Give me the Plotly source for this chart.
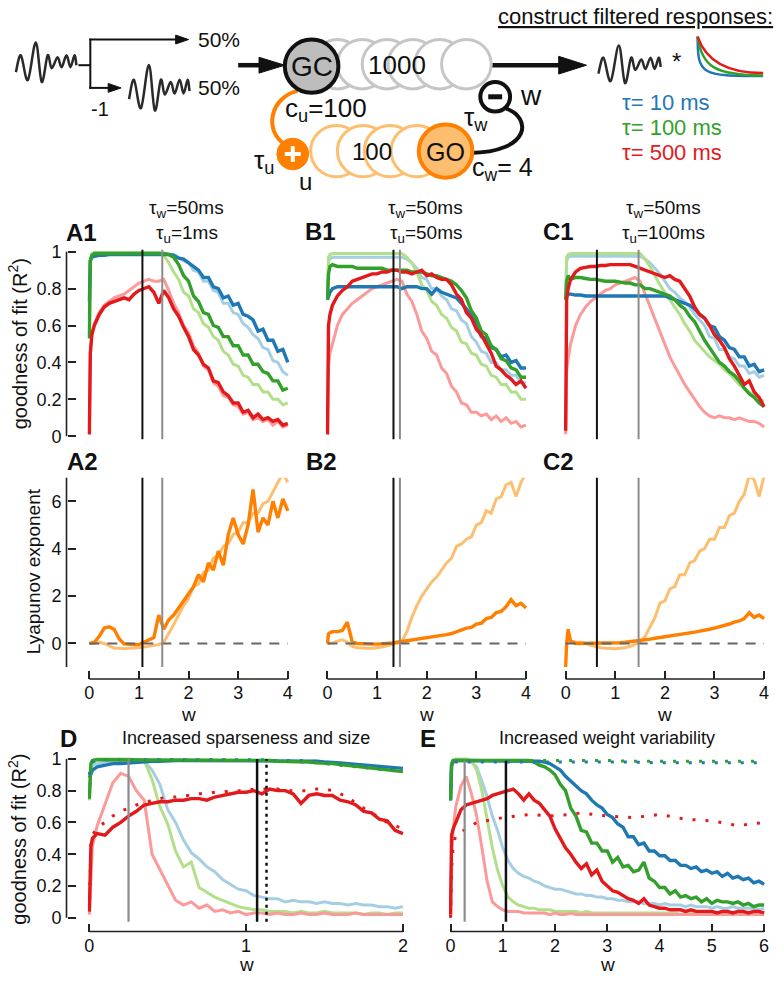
import plotly.graph_objects as go

FIG_W, FIG_H = 782, 981
FONT = "Liberation Sans, Arial, Helvetica, sans-serif"

# ============================ DATA ============================
W_ABC = [0, 0.02, 0.05, 0.1, 0.2, 0.3, 0.4, 0.5, 0.6, 0.7,
         0.8, 0.9, 1.0, 1.1, 1.2, 1.3, 1.4, 1.5, 1.6, 1.7,
         1.8, 1.9, 2.0, 2.1, 2.2, 2.3, 2.4, 2.5, 2.6, 2.7,
         2.8, 2.9, 3.0, 3.1, 3.2, 3.3, 3.4, 3.5, 3.6, 3.7,
         3.8, 3.9, 4.0]
X_TICKS_ABC = [0, 1, 2, 3, 4]
R2_TICKS = [0, 0.2, 0.4, 0.6, 0.8, 1]
R2_TICKTEXT = ["0", "0.2", "0.4", "0.6", "0.8", "1"]
LYAP_TICKS = [0, 2, 4, 6]

# ---- A1 (tau_w = 50 ms, tau_u = 1 ms)
A1_lblue = [0.73, 0.96, 0.98, 0.99, 0.99, 0.99, 0.99, 0.99, 0.99, 0.99,
            0.99, 0.99, 0.99, 0.99, 0.99, 0.99, 0.99, 0.99, 0.985, 0.985,
            0.97, 0.95, 0.94, 0.90, 0.89, 0.84, 0.84, 0.79, 0.78, 0.72,
            0.72, 0.67, 0.66, 0.61, 0.59, 0.55, 0.53, 0.48, 0.47, 0.41,
            0.40, 0.35, 0.33]
A1_lgreen = [0.55, 0.96, 0.99, 0.995, 0.995, 0.995, 0.995, 0.995, 0.995, 0.995,
             0.995, 0.995, 0.995, 0.995, 0.995, 0.995, 0.995, 0.98, 0.94, 0.89,
             0.85, 0.78, 0.76, 0.69, 0.67, 0.61, 0.59, 0.54, 0.52, 0.46,
             0.44, 0.39, 0.38, 0.33, 0.32, 0.28, 0.28, 0.24, 0.24, 0.20,
             0.20, 0.17, 0.18]
A1_lred = [0.01, 0.45, 0.55, 0.61, 0.67, 0.71, 0.73, 0.75, 0.76, 0.77,
           0.79, 0.81, 0.83, 0.84, 0.85, 0.84, 0.84, 0.85, 0.79, 0.72,
           0.67, 0.60, 0.56, 0.49, 0.45, 0.38, 0.36, 0.29, 0.27, 0.22,
           0.21, 0.17, 0.16, 0.12, 0.13, 0.09, 0.10, 0.08, 0.09, 0.06,
           0.08, 0.05, 0.06]
A1_blue = [0.73, 0.95, 0.97, 0.975, 0.98, 0.98, 0.985, 0.985, 0.985, 0.985,
           0.985, 0.985, 0.985, 0.985, 0.985, 0.985, 0.985, 0.985, 0.985, 0.98,
           0.965, 0.96, 0.94, 0.92, 0.90, 0.86, 0.86, 0.81, 0.80, 0.75,
           0.76, 0.71, 0.72, 0.66, 0.65, 0.63, 0.57, 0.58, 0.52, 0.52,
           0.46, 0.47, 0.40]
A1_green = [0.53, 0.95, 0.98, 0.99, 0.99, 0.99, 0.99, 0.99, 0.99, 0.99,
            0.99, 0.99, 0.99, 0.99, 0.99, 0.99, 0.99, 0.99, 0.985, 0.97,
            0.93, 0.87, 0.84, 0.76, 0.73, 0.67, 0.66, 0.60, 0.59, 0.54,
            0.54, 0.49, 0.49, 0.44, 0.44, 0.39, 0.39, 0.35, 0.34, 0.30,
            0.30, 0.25, 0.26]
A1_red = [0.01, 0.45, 0.55, 0.60, 0.66, 0.70, 0.72, 0.73, 0.74, 0.75,
          0.74, 0.77, 0.79, 0.80, 0.81, 0.78, 0.72, 0.79, 0.75, 0.69,
          0.65, 0.59, 0.54, 0.47, 0.44, 0.39, 0.37, 0.30, 0.29, 0.24,
          0.22, 0.18, 0.18, 0.13, 0.14, 0.10, 0.12, 0.09, 0.10, 0.08,
          0.09, 0.06, 0.07]

# ---- B1 (tau_w = 50 ms, tau_u = 50 ms)
B1_lblue = [0.74, 0.95, 0.96, 0.97, 0.97, 0.97, 0.97, 0.97, 0.97, 0.97,
            0.97, 0.97, 0.97, 0.97, 0.97, 0.97, 0.97, 0.97, 0.96, 0.94,
            0.91, 0.86, 0.85, 0.80, 0.80, 0.76, 0.74, 0.69, 0.68, 0.63,
            0.61, 0.54, 0.51, 0.46, 0.45, 0.40, 0.40, 0.36, 0.36, 0.33,
            0.33, 0.29, 0.29]
B1_lgreen = [0.74, 0.97, 0.985, 0.99, 0.99, 0.99, 0.99, 0.99, 0.99, 0.99,
             0.99, 0.99, 0.99, 0.99, 0.99, 0.99, 0.99, 0.99, 0.97, 0.94,
             0.89, 0.82, 0.79, 0.73, 0.71, 0.66, 0.64, 0.59, 0.57, 0.51,
             0.50, 0.45, 0.44, 0.39, 0.38, 0.33, 0.32, 0.28, 0.28, 0.24,
             0.24, 0.20, 0.20]
B1_lred = [0.01, 0.38, 0.45, 0.50, 0.60, 0.66, 0.69, 0.72, 0.74, 0.76,
           0.78, 0.80, 0.81, 0.82, 0.83, 0.84, 0.85, 0.84, 0.77, 0.73,
           0.66, 0.57, 0.53, 0.46, 0.44, 0.37, 0.34, 0.27, 0.24, 0.18,
           0.17, 0.13, 0.13, 0.11, 0.12, 0.09, 0.11, 0.08, 0.10, 0.07,
           0.08, 0.05, 0.06]
B1_blue = [0.74, 0.76, 0.78, 0.80, 0.81, 0.81, 0.81, 0.81, 0.81, 0.81,
           0.81, 0.81, 0.81, 0.81, 0.81, 0.81, 0.81, 0.80, 0.81, 0.81,
           0.81, 0.80, 0.80, 0.77, 0.80, 0.78, 0.77, 0.76, 0.75, 0.72,
           0.69, 0.65, 0.61, 0.54, 0.53, 0.48, 0.47, 0.43, 0.44, 0.40,
           0.41, 0.37, 0.37]
B1_green = [0.74, 0.88, 0.92, 0.93, 0.92, 0.92, 0.92, 0.92, 0.91, 0.91,
            0.91, 0.91, 0.91, 0.91, 0.90, 0.90, 0.90, 0.90, 0.90, 0.89,
            0.89, 0.89, 0.88, 0.87, 0.87, 0.86, 0.85, 0.84, 0.82, 0.79,
            0.75, 0.68, 0.64, 0.57, 0.55, 0.49, 0.47, 0.42, 0.41, 0.37,
            0.36, 0.32, 0.32]
B1_red = [0.01, 0.60, 0.66, 0.71, 0.76, 0.79, 0.81, 0.84, 0.85, 0.86,
          0.87, 0.88, 0.88, 0.89, 0.89, 0.90, 0.90, 0.89, 0.89, 0.88,
          0.89, 0.90, 0.87, 0.88, 0.86, 0.85, 0.85, 0.82, 0.77, 0.74,
          0.67, 0.64, 0.58, 0.55, 0.50, 0.45, 0.38, 0.36, 0.33, 0.31,
          0.28, 0.30, 0.26]

# ---- C1 (tau_w = 50 ms, tau_u = 100 ms)
C1_lblue = [0.74, 0.95, 0.97, 0.975, 0.975, 0.975, 0.975, 0.975, 0.975, 0.975,
            0.975, 0.975, 0.975, 0.975, 0.975, 0.975, 0.975, 0.975, 0.96, 0.94,
            0.91, 0.88, 0.84, 0.80, 0.78, 0.75, 0.73, 0.70, 0.66, 0.63,
            0.60, 0.54, 0.53, 0.47, 0.47, 0.43, 0.42, 0.38, 0.38, 0.34,
            0.35, 0.32, 0.33]
C1_lgreen = [0.74, 0.97, 0.985, 0.99, 0.99, 0.99, 0.99, 0.99, 0.99, 0.99,
             0.99, 0.99, 0.99, 0.99, 0.99, 0.99, 0.99, 0.99, 0.96, 0.92,
             0.87, 0.82, 0.78, 0.74, 0.70, 0.66, 0.61, 0.57, 0.52, 0.49,
             0.46, 0.43, 0.41, 0.39, 0.36, 0.34, 0.31, 0.28, 0.26, 0.24,
             0.22, 0.20, 0.19]
C1_lred = [0.01, 0.35, 0.42, 0.50, 0.60, 0.66, 0.70, 0.73, 0.75, 0.77,
           0.79, 0.80, 0.82, 0.83, 0.84, 0.85, 0.86, 0.84, 0.77, 0.70,
           0.63, 0.56, 0.50, 0.43, 0.38, 0.33, 0.28, 0.24, 0.20, 0.16,
           0.13, 0.11, 0.10, 0.11, 0.10, 0.10, 0.09, 0.10, 0.09, 0.08,
           0.08, 0.07, 0.05]
C1_blue = [0.74, 0.76, 0.77, 0.77, 0.765, 0.765, 0.76, 0.76, 0.76, 0.76,
           0.76, 0.76, 0.76, 0.76, 0.76, 0.76, 0.76, 0.76, 0.76, 0.76,
           0.76, 0.76, 0.76, 0.75, 0.74, 0.73, 0.72, 0.71, 0.69, 0.66,
           0.64, 0.60, 0.59, 0.54, 0.52, 0.48, 0.47, 0.43, 0.43, 0.38,
           0.39, 0.35, 0.36]
C1_green = [0.74, 0.84, 0.87, 0.85, 0.86, 0.86, 0.855, 0.85, 0.85, 0.845,
            0.84, 0.84, 0.84, 0.835, 0.83, 0.83, 0.82, 0.82, 0.80, 0.80,
            0.79, 0.78, 0.77, 0.76, 0.74, 0.71, 0.69, 0.65, 0.62, 0.57,
            0.52, 0.48, 0.44, 0.40, 0.38, 0.35, 0.33, 0.30, 0.26, 0.23,
            0.21, 0.18, 0.16]
C1_red = [0.03, 0.74, 0.80, 0.85, 0.89, 0.91, 0.915, 0.92, 0.92, 0.925,
          0.925, 0.93, 0.93, 0.93, 0.93, 0.93, 0.92, 0.91, 0.90, 0.89,
          0.88, 0.87, 0.86, 0.87, 0.85, 0.84, 0.80, 0.76, 0.70, 0.66,
          0.64, 0.60, 0.55, 0.52, 0.48, 0.42, 0.38, 0.33, 0.28, 0.30,
          0.24, 0.21, 0.16]

# ---- Lyapunov exponents (A2, B2, C2)
A2_lo = [0.0, 0.0, 0.0, 0.0, 0.05, 0.0, -0.1, -0.2, -0.2, -0.22,
         -0.2, -0.2, -0.18, -0.15, -0.12, -0.1, -0.05, 0.05, 0.4, 0.8,
         1.2, 1.6, 1.9, 2.4, 2.5, 3.0, 3.1, 3.6, 3.7, 4.1,
         4.2, 4.6, 4.7, 5.1, 5.1, 5.5, 5.5, 5.9, 6.0, 6.4,
         6.8, 7.2, 6.8]
A2_o = [0.0, 0.0, 0.02, 0.05, 0.3, 0.65, 0.7, 0.6, 0.2, -0.02,
        -0.05, -0.05, -0.05, 0.05, 0.15, 0.25, 1.2, 0.6, 1.0, 1.2,
        1.5, 1.8, 2.1, 2.4, 2.9, 2.6, 3.4, 3.1, 3.9, 3.3,
        4.6, 5.3, 4.6, 4.2, 5.0, 6.5, 4.7, 5.3, 5.0, 6.0,
        5.3, 6.1, 5.6]
B2_lo = [0.0, 0.0, 0.0, 0.02, 0.1, 0.15, 0.05, -0.12, -0.18, -0.2,
         -0.2, -0.2, -0.18, -0.15, -0.1, -0.05, 0.0, 0.1, 0.5, 1.1,
         1.6, 2.0, 2.3, 2.6, 2.8, 3.1, 3.4, 3.6, 4.1, 4.2,
         4.4, 4.5, 5.0, 5.1, 5.6, 5.5, 6.1, 6.2, 6.7, 6.8,
         6.2, 6.8, 7.2]
B2_o = [0.0, 0.4, 0.45, 0.5, 0.5, 0.55, 0.9, 0.05, 0.0, -0.02,
        -0.03, -0.03, -0.03, -0.02, 0.0, 0.02, 0.05, 0.08, 0.1, 0.13,
        0.17, 0.2, 0.22, 0.25, 0.3, 0.33, 0.37, 0.42, 0.5, 0.55,
        0.65, 0.68, 0.82, 0.85, 1.05, 1.1, 1.3, 1.35, 1.55, 1.85,
        1.6, 1.7, 1.5]
C2_lo = [0.0, 0.0, 0.05, 0.1, 0.05, 0.05, 0.0, -0.08, -0.12, -0.18,
         -0.2, -0.22, -0.22, -0.2, -0.18, -0.12, -0.05, 0.05, 0.3, 0.7,
         1.1, 1.7, 1.8, 2.3, 2.4, 2.9, 2.9, 3.4, 3.5, 3.9,
         4.0, 4.4, 4.4, 4.9, 4.9, 5.4, 5.5, 6.0, 6.3, 7.1,
         6.9, 6.2, 7.1]
C2_o = [-1.0, 0.0, 0.6, 0.1, 0.0, 0.0, 0.0, 0.0, 0.0, 0.0,
        0.0, 0.02, 0.02, 0.03, 0.05, 0.07, 0.1, 0.12, 0.15, 0.18,
        0.22, 0.25, 0.28, 0.3, 0.33, 0.36, 0.4, 0.44, 0.48, 0.52,
        0.55, 0.6, 0.65, 0.7, 0.75, 0.82, 0.9, 0.95, 1.05, 1.3,
        1.1, 1.2, 1.05]

# vertical reference lines (black, grey) per column
VLINES_ABC = {"A": (1.07, 1.47), "B": (1.33, 1.46), "C": (0.63, 1.47)}

# ---- D: increased sparseness and size
W_D = [0, 0.01, 0.02, 0.05, 0.1, 0.15, 0.2, 0.25, 0.3, 0.35,
       0.4, 0.45, 0.5, 0.55, 0.6, 0.65, 0.7, 0.75, 0.8, 0.85,
       0.9, 0.95, 1.0, 1.05, 1.1, 1.15, 1.2, 1.25, 1.3, 1.35,
       1.4, 1.45, 1.5, 1.55, 1.6, 1.65, 1.7, 1.75, 1.8, 1.85,
       1.9, 1.95, 2.0]
X_TICKS_D = [0, 1, 2]
D_lblue = [0.74, 0.94, 0.96, 0.97, 0.98, 0.985, 0.99, 0.99, 0.99, 0.985,
           0.93, 0.84, 0.68, 0.60, 0.49, 0.41, 0.37, 0.32, 0.29, 0.24,
           0.21, 0.18, 0.17, 0.14, 0.13, 0.12, 0.12, 0.10, 0.11, 0.10,
           0.10, 0.09, 0.10, 0.09, 0.09, 0.08, 0.09, 0.08, 0.08, 0.07,
           0.07, 0.06, 0.07]
D_lgreen = [0.74, 0.97, 0.99, 1.0, 1.0, 1.0, 1.0, 1.0, 0.995, 0.99,
            0.87, 0.70, 0.59, 0.42, 0.32, 0.35, 0.19, 0.16, 0.13, 0.11,
            0.09, 0.07, 0.06, 0.05, 0.05, 0.04, 0.04, 0.04, 0.03, 0.04,
            0.03, 0.03, 0.04, 0.03, 0.03, 0.03, 0.03, 0.02, 0.03, 0.03,
            0.02, 0.03, 0.03]
D_lred = [0.02, 0.30, 0.45, 0.58, 0.71, 0.85, 0.91, 0.89, 0.80, 0.74,
          0.40, 0.30, 0.20, 0.11, 0.08, 0.10, 0.06, 0.08, 0.04, 0.05,
          0.03, 0.04, 0.02, 0.03, 0.03, 0.02, 0.03, 0.02, 0.02, 0.03,
          0.02, 0.02, 0.03, 0.02, 0.02, 0.02, 0.03, 0.02, 0.02, 0.02,
          0.02, 0.02, 0.02]
D_blue = [0.88, 0.90, 0.93, 0.95, 0.96, 0.97, 0.97, 0.975, 0.98, 0.98,
          0.985, 0.985, 0.99, 0.99, 0.99, 0.99, 0.99, 0.99, 0.99, 0.99,
          0.99, 0.99, 0.99, 0.99, 0.99, 0.99, 0.99, 0.99, 0.99, 0.99,
          0.985, 0.985, 0.98, 0.98, 0.975, 0.97, 0.965, 0.96, 0.955, 0.95,
          0.945, 0.94, 0.94]
D_green = [0.75, 0.97, 0.99, 0.995, 0.995, 0.995, 0.995, 0.995, 0.995, 0.995,
           0.995, 0.995, 0.99, 0.99, 0.99, 0.99, 0.99, 0.99, 0.99, 0.99,
           0.99, 0.99, 0.99, 0.99, 0.99, 0.99, 0.985, 0.985, 0.985, 0.98,
           0.98, 0.975, 0.975, 0.97, 0.965, 0.96, 0.955, 0.95, 0.945, 0.94,
           0.93, 0.925, 0.92]
D_red = [0.04, 0.45, 0.50, 0.53, 0.52, 0.57, 0.60, 0.64, 0.67, 0.71,
         0.72, 0.73, 0.73, 0.74, 0.74, 0.75, 0.75, 0.74, 0.76, 0.77,
         0.78, 0.79, 0.79, 0.80, 0.78, 0.81, 0.80, 0.80, 0.78, 0.72,
         0.77, 0.78, 0.77, 0.77, 0.74, 0.73, 0.71, 0.67, 0.66, 0.62,
         0.61, 0.55, 0.53]
D_blue_dot = [0.90, 0.96, 0.98, 0.99, 0.995, 0.995, 0.995, 0.995, 0.995, 0.995,
              0.995, 0.995, 0.995, 0.995, 0.995, 0.995, 0.995, 0.995, 0.995, 0.995,
              0.995, 0.995, 0.995, 0.995, 0.995, 0.99, 0.99, 0.99, 0.99, 0.99,
              0.985, 0.985, 0.98, 0.975, 0.97, 0.965, 0.96, 0.955, 0.95, 0.945,
              0.945, 0.94, 0.94]
D_green_dot = [0.75, 0.97, 0.99, 0.995, 0.995, 0.995, 0.995, 0.995, 0.995, 0.995,
               0.995, 0.995, 0.995, 0.995, 0.995, 0.995, 0.995, 0.995, 0.995, 0.995,
               0.99, 0.99, 0.99, 0.99, 0.99, 0.99, 0.99, 0.985, 0.985, 0.98,
               0.98, 0.975, 0.97, 0.965, 0.96, 0.955, 0.95, 0.945, 0.94, 0.935,
               0.93, 0.925, 0.92]
D_red_dot = [0.04, 0.45, 0.52, 0.57, 0.60, 0.64, 0.67, 0.69, 0.71, 0.72,
             0.74, 0.75, 0.76, 0.76, 0.77, 0.77, 0.78, 0.78, 0.79, 0.79,
             0.80, 0.80, 0.80, 0.81, 0.81, 0.81, 0.81, 0.80, 0.80, 0.80,
             0.80, 0.81, 0.81, 0.80, 0.78, 0.76, 0.72, 0.69, 0.66, 0.63,
             0.60, 0.58, 0.56]
D_VLINES = (0.25, 1.07, 1.13)   # grey, black, black dotted

# ---- E: increased weight variability
W_E = [0, 0.02, 0.05, 0.1, 0.2, 0.3, 0.4, 0.5, 0.6, 0.7,
       0.8, 0.9, 1.0, 1.1, 1.2, 1.3, 1.4, 1.5, 1.6, 1.7,
       1.8, 1.9, 2.0, 2.1, 2.2, 2.3, 2.4, 2.5, 2.6, 2.7,
       2.8, 2.9, 3.0, 3.1, 3.2, 3.3, 3.4, 3.5, 3.6, 3.7,
       3.8, 3.9, 4.0, 4.1, 4.2, 4.3, 4.4, 4.5, 4.6, 4.7,
       4.8, 4.9, 5.0, 5.1, 5.2, 5.3, 5.4, 5.5, 5.6, 5.7,
       5.8, 5.9, 6.0]
X_TICKS_E = [0, 1, 2, 3, 4, 5, 6]
E_lblue = [0.74, 0.96, 0.98, 0.99, 0.99, 0.99, 0.98, 0.95, 0.86, 0.76,
           0.64, 0.55, 0.44, 0.36, 0.31, 0.28, 0.26, 0.25, 0.23, 0.22,
           0.20, 0.19, 0.18, 0.18, 0.17, 0.16, 0.15, 0.15, 0.14, 0.14,
           0.13, 0.13, 0.12, 0.12, 0.11, 0.11, 0.10, 0.10, 0.10, 0.09,
           0.09, 0.09, 0.08, 0.09, 0.08, 0.08, 0.08, 0.07, 0.08, 0.07,
           0.07, 0.07, 0.06, 0.07, 0.06, 0.06, 0.07, 0.06, 0.06, 0.06,
           0.06, 0.05, 0.06]
E_lgreen = [0.74, 0.97, 0.99, 1.0, 1.0, 1.0, 0.99, 0.93, 0.80, 0.62,
            0.44, 0.30, 0.20, 0.13, 0.10, 0.08, 0.07, 0.06, 0.06, 0.05,
            0.05, 0.05, 0.04, 0.04, 0.04, 0.04, 0.04, 0.03, 0.04, 0.03,
            0.03, 0.03, 0.03, 0.03, 0.03, 0.03, 0.03, 0.03, 0.03, 0.03,
            0.03, 0.03, 0.03, 0.03, 0.03, 0.03, 0.02, 0.03, 0.03, 0.03,
            0.03, 0.03, 0.03, 0.03, 0.02, 0.03, 0.03, 0.03, 0.03, 0.03,
            0.03, 0.03, 0.03]
E_lred = [0.0, 0.40, 0.55, 0.70, 0.83, 0.89, 0.78, 0.64, 0.44, 0.23,
          0.10, 0.07, 0.05, 0.04, 0.04, 0.04, 0.03, 0.03, 0.03, 0.03,
          0.03, 0.02, 0.03, 0.02, 0.02, 0.03, 0.02, 0.02, 0.02, 0.02,
          0.02, 0.02, 0.02, 0.02, 0.02, 0.02, 0.02, 0.02, 0.02, 0.02,
          0.02, 0.02, 0.02, 0.02, 0.02, 0.02, 0.02, 0.02, 0.02, 0.02,
          0.02, 0.02, 0.02, 0.02, 0.02, 0.02, 0.02, 0.02, 0.02, 0.02,
          0.02, 0.02, 0.02]
E_blue = [0.74, 0.96, 0.98, 0.99, 0.99, 0.99, 0.99, 0.99, 0.99, 0.99,
          0.99, 0.99, 0.99, 0.99, 0.99, 0.99, 0.99, 0.99, 0.99, 0.985,
          0.98, 0.97, 0.95, 0.93, 0.89, 0.86, 0.83, 0.80, 0.78, 0.74,
          0.71, 0.69, 0.65, 0.63, 0.59, 0.57, 0.51, 0.51, 0.46, 0.47,
          0.42, 0.42, 0.39, 0.39, 0.36, 0.36, 0.33, 0.33, 0.31, 0.32,
          0.29, 0.30, 0.28, 0.29, 0.26, 0.28, 0.25, 0.26, 0.24, 0.25,
          0.22, 0.23, 0.21]
E_green = [0.74, 0.97, 0.99, 0.99, 0.99, 0.99, 0.99, 0.99, 0.99, 0.99,
           0.99, 0.99, 0.99, 0.99, 0.99, 0.99, 0.99, 0.99, 0.98, 0.96,
           0.95, 0.93, 0.90, 0.84, 0.80, 0.69, 0.64, 0.55, 0.54, 0.47,
           0.47, 0.42, 0.42, 0.35, 0.38, 0.32, 0.33, 0.29, 0.30, 0.35,
           0.25, 0.23, 0.19, 0.19, 0.15, 0.17, 0.13, 0.14, 0.12, 0.13,
           0.10, 0.12, 0.09, 0.11, 0.10, 0.10, 0.09, 0.10, 0.08, 0.09,
           0.07, 0.08, 0.08]
E_red = [0.02, 0.52, 0.56, 0.60, 0.68, 0.71, 0.72, 0.73, 0.74, 0.75,
         0.77, 0.78, 0.79, 0.80, 0.81, 0.78, 0.74, 0.78, 0.74, 0.72,
         0.68, 0.64, 0.56, 0.50, 0.44, 0.40, 0.35, 0.31, 0.34, 0.27,
         0.30, 0.23, 0.20, 0.17, 0.16, 0.14, 0.12, 0.11, 0.09, 0.12,
         0.08, 0.07, 0.06, 0.06, 0.05, 0.05, 0.05, 0.04, 0.05, 0.04,
         0.04, 0.04, 0.04, 0.03, 0.04, 0.04, 0.03, 0.04, 0.04, 0.03,
         0.04, 0.04, 0.03]
W_E_DOT = [0, 0.02, 0.05, 0.1, 0.5, 1.0, 1.5, 2.0, 2.5, 3.0, 3.5, 4.0, 4.5, 5.0, 5.5, 6.0]
E_blue_dot = [0.74, 0.95, 0.97, 0.98, 0.98, 0.98, 0.98, 0.98, 0.98, 0.98, 0.98, 0.975, 0.975, 0.975, 0.975, 0.975]
E_green_dot = [0.74, 0.97, 0.99, 0.99, 0.99, 0.99, 0.99, 0.99, 0.99, 0.99, 0.985, 0.985, 0.985, 0.985, 0.985, 0.985]
E_red_dot = [0.0, 0.30, 0.45, 0.52, 0.60, 0.63, 0.65, 0.64, 0.66, 0.64, 0.63, 0.65, 0.62, 0.61, 0.58, 0.60]
E_VLINES = (0.27, 1.06)   # grey, black

for _n, _a in [("ABC", [A1_lblue, A1_lgreen, A1_lred, A1_blue, A1_green, A1_red,
                        B1_lblue, B1_lgreen, B1_lred, B1_blue, B1_green, B1_red,
                        C1_lblue, C1_lgreen, C1_lred, C1_blue, C1_green, C1_red,
                        A2_lo, A2_o, B2_lo, B2_o, C2_lo, C2_o]),
               ("D", [D_lblue, D_lgreen, D_lred, D_blue, D_green, D_red,
                      D_blue_dot, D_green_dot, D_red_dot]),
               ("E", [E_lblue, E_lgreen, E_lred, E_blue, E_green, E_red])]:
    _ref = {"ABC": W_ABC, "D": W_D, "E": W_E}[_n]
    for _i, _arr in enumerate(_a):
        assert len(_arr) == len(_ref), (_n, _i, len(_arr), len(_ref))

# ============================ STYLE ============================
C_LB, C_B = "#a6cee3", "#1f78b4"
C_LG, C_G = "#b2df8a", "#33a02c"
C_LR, C_R = "#fb9a99", "#e31a1c"
C_LO, C_O = "#fdbf6f", "#ff7f00"
C_GREY = "#8c8c8c"
C_AX = "#222222"
W_LIGHT, W_DARK = 3.0, 3.4


def fx(x):
    return x / FIG_W


def fy(y):
    return 1 - y / FIG_H


def lin(pa, pb, va, vb, v):
    return pa + (v - va) * (pb - pa) / (vb - va)


fig = go.Figure()
layout = dict(width=FIG_W, height=FIG_H, margin=dict(l=0, r=0, t=0, b=0),
              paper_bgcolor="white", plot_bgcolor="rgba(0,0,0,0)",
              showlegend=False, font=dict(family=FONT, color="#111"))
shapes = []
annots = []

TICKFONT = dict(family=FONT, size=18, color="#111")

# panel geometry: pixel positions of two data values on each axis
PANELS = {
    "A1": dict(n=1, xpx=(87, 287), xv=(0, 4), xr=(-0.04, 4.04), ypx=(436, 249), yv=(0, 1), yr=(-0.02, 1.02)),
    "B1": dict(n=2, xpx=(327, 527), xv=(0, 4), xr=(-0.04, 4.04), ypx=(436, 249), yv=(0, 1), yr=(-0.02, 1.02)),
    "C1": dict(n=3, xpx=(567, 767), xv=(0, 4), xr=(-0.04, 4.04), ypx=(436, 249), yv=(0, 1), yr=(-0.02, 1.02)),
    "A2": dict(n=4, xpx=(87, 287), xv=(0, 4), xr=(-0.04, 4.04), ypx=(670, 478), yv=(-1, 7), yr=(-1, 7)),
    "B2": dict(n=5, xpx=(327, 527), xv=(0, 4), xr=(-0.04, 4.04), ypx=(670, 478), yv=(-1, 7), yr=(-1, 7)),
    "C2": dict(n=6, xpx=(567, 767), xv=(0, 4), xr=(-0.04, 4.04), ypx=(670, 478), yv=(-1, 7), yr=(-1, 7)),
    "D": dict(n=7, xpx=(87, 403), xv=(0, 2), xr=(-0.01, 2.01), ypx=(924, 763), yv=(0, 1), yr=(-0.02, 1.02)),
    "E": dict(n=8, xpx=(451, 767), xv=(0, 6), xr=(-0.03, 6.03), ypx=(924, 763), yv=(0, 1), yr=(-0.02, 1.02)),
}
XAXIS_SHOW = {"A2": (682, X_TICKS_ABC), "B2": (682, X_TICKS_ABC), "C2": (682, X_TICKS_ABC),
              "D": (938, X_TICKS_D), "E": (938, X_TICKS_E)}
YAXIS_SHOW = {"A1": (R2_TICKS, R2_TICKTEXT), "A2": (LYAP_TICKS, [str(t) for t in LYAP_TICKS]),
              "D": (R2_TICKS, R2_TICKTEXT)}


def refs(n):
    return ("x" if n == 1 else f"x{n}", "y" if n == 1 else f"y{n}")


for name, p in PANELS.items():
    n = p["n"]
    xd = [fx(lin(p["xpx"][0], p["xpx"][1], p["xv"][0], p["xv"][1], v)) for v in p["xr"]]
    yd = [fy(lin(p["ypx"][0], p["ypx"][1], p["yv"][0], p["yv"][1], v)) for v in p["yr"]]
    xa = dict(domain=xd, range=list(p["xr"]), showgrid=False, zeroline=False, showline=False, fixedrange=True)
    ya = dict(domain=yd, range=list(p["yr"]), showgrid=False, zeroline=False, showline=False, fixedrange=True)
    if name in XAXIS_SHOW:
        pos, tv = XAXIS_SHOW[name]
        xa.update(anchor="free", position=fy(pos), tickmode="array", tickvals=tv,
                  ticktext=[str(t) for t in tv], ticks="inside", ticklen=8, tickwidth=1.5,
                  tickcolor=C_AX, tickfont=TICKFONT, ticklabelstandoff=1)
        x0p = lin(p["xpx"][0], p["xpx"][1], p["xv"][0], p["xv"][1], tv[0])
        x1p = lin(p["xpx"][0], p["xpx"][1], p["xv"][0], p["xv"][1], tv[-1])
        shapes.append(dict(type="line", xref="paper", yref="paper", x0=fx(x0p), x1=fx(x1p),
                           y0=fy(pos), y1=fy(pos), line=dict(color=C_AX, width=1.6)))
    else:
        xa.update(visible=False)
    if name in YAXIS_SHOW:
        tv, tt = YAXIS_SHOW[name]
        ya.update(anchor="free", position=fx(64), tickmode="array", tickvals=tv, ticktext=tt,
                  ticks="inside", ticklen=8, tickwidth=1.5, tickcolor=C_AX, tickfont=TICKFONT,
                  ticklabelstandoff=5)
        y0p = lin(p["ypx"][0], p["ypx"][1], p["yv"][0], p["yv"][1], p["yv"][0] if p["yv"][0] < 0 else 0)
        y1p = lin(p["ypx"][0], p["ypx"][1], p["yv"][0], p["yv"][1], p["yr"][1] if p["yv"][1] > 1 else 1)
        shapes.append(dict(type="line", xref="paper", yref="paper", x0=fx(64), x1=fx(64),
                           y0=fy(y0p), y1=fy(y1p), line=dict(color=C_AX, width=1.6)))
    else:
        ya.update(visible=False)
    layout["xaxis" if n == 1 else f"xaxis{n}"] = xa
    layout["yaxis" if n == 1 else f"yaxis{n}"] = ya


def add_line(panel, x, y, color, width=W_LIGHT, dash=None):
    xr, yr = refs(PANELS[panel]["n"])
    ln = dict(color=color, width=width)
    if dash:
        ln["dash"] = dash
    fig.add_trace(go.Scatter(x=x, y=y, xaxis=xr, yaxis=yr, mode="lines", line=ln,
                             hoverinfo="skip", showlegend=False))


def vline(panel, xv, color, width, ytop, ybot, dash=None):
    xr, _ = refs(PANELS[panel]["n"])
    ln = dict(color=color, width=width)
    if dash:
        ln["dash"] = dash
    shapes.append(dict(type="line", xref=xr, yref="paper", x0=xv, x1=xv,
                       y0=fy(ybot), y1=fy(ytop), line=ln, layer="above"))


# ---- row 1: goodness of fit
R1 = {"A1": (A1_lblue, A1_lgreen, A1_lred, A1_blue, A1_green, A1_red),
      "B1": (B1_lblue, B1_lgreen, B1_lred, B1_blue, B1_green, B1_red),
      "C1": (C1_lblue, C1_lgreen, C1_lred, C1_blue, C1_green, C1_red)}
for pn, (lb, lg, lr, b, g, r) in R1.items():
    add_line(pn, W_ABC, lb, C_LB)
    add_line(pn, W_ABC, lg, C_LG)
    add_line(pn, W_ABC, lr, C_LR)
    add_line(pn, W_ABC, b, C_B, W_DARK)
    add_line(pn, W_ABC, g, C_G, W_DARK)
    add_line(pn, W_ABC, r, C_R, W_DARK)
    bl, gl = VLINES_ABC[pn[0]]
    vline(pn, bl, "#111", 2, 247, 439)
    vline(pn, gl, C_GREY, 2, 247, 439)

# ---- row 2: Lyapunov exponent
R2 = {"A2": (A2_lo, A2_o), "B2": (B2_lo, B2_o), "C2": (C2_lo, C2_o)}
for pn, (lo, o) in R2.items():
    add_line(pn, W_ABC, lo, C_LO)
    add_line(pn, W_ABC, o, C_O, W_DARK)
    xr, yr = refs(PANELS[pn]["n"])
    shapes.append(dict(type="line", xref=xr, yref=yr, x0=0, x1=4, y0=0, y1=0,
                       line=dict(color="#666", width=2, dash="10px,8px"), layer="above"))
    bl, gl = VLINES_ABC[pn[0]]
    vline(pn, bl, "#111", 2, 478, 670)
    vline(pn, gl, C_GREY, 2, 478, 670)

# ---- D
DOT = "3px,10px"
add_line("D", W_D, D_lblue, C_LB)
add_line("D", W_D, D_lgreen, C_LG)
add_line("D", W_D, D_lred, C_LR)
add_line("D", W_D, D_blue, C_B, W_DARK)
add_line("D", W_D, D_green, C_G, W_DARK)
add_line("D", W_D, D_red, C_R, W_DARK)
add_line("D", W_D, D_blue_dot, C_B, dash=DOT)
add_line("D", W_D, D_green_dot, C_G, dash=DOT)
add_line("D", W_D, D_red_dot, C_R, dash=DOT)
vline("D", D_VLINES[0], C_GREY, 2.2, 763, 928)
vline("D", D_VLINES[1], "#111", 2.5, 763, 928)
vline("D", D_VLINES[2], "#111", 2.5, 763, 928, dash="3px,4px")

# ---- E
add_line("E", W_E, E_lblue, C_LB)
add_line("E", W_E, E_lgreen, C_LG)
add_line("E", W_E, E_lred, C_LR)
add_line("E", W_E, E_blue, C_B, W_DARK)
add_line("E", W_E, E_green, C_G, W_DARK)
add_line("E", W_E, E_red, C_R, W_DARK)
add_line("E", W_E_DOT, E_blue_dot, C_B, dash=DOT)
add_line("E", W_E_DOT, E_green_dot, C_G, dash=DOT)
add_line("E", W_E_DOT, E_red_dot, C_R, dash=DOT)
vline("E", E_VLINES[0], C_GREY, 2.2, 765, 928)
vline("E", E_VLINES[1], "#111", 2.5, 765, 928)


# ============================ TEXT ============================
def text(x, y, s, size=18, color="#111", bold=False, xanchor="center", yanchor="middle",
         angle=0, **fk):
    annots.append(dict(xref="paper", yref="paper", x=fx(x), y=fy(y),
                       text=f"<b>{s}</b>" if bold else s, showarrow=False,
                       xanchor=xanchor, yanchor=yanchor, textangle=angle, borderpad=0,
                       font=dict(family=FONT, size=size, color=color, **fk)))


for lbl, (x, y) in {"A1": (79, 230), "B1": (320, 229), "C1": (560, 229),
                    "A2": (80, 462), "B2": (321, 462), "C2": (560, 462),
                    "D": (66, 742), "E": (428, 742)}.items():
    text(x, y, lbl, size=24, bold=True)

for cx, tu in [(185, "1ms"), (426, "50ms"), (666, "100ms")]:
    text(cx, 206, "τ<sub>w</sub>=50ms", size=19)
    text(cx, 231, f"τ<sub>u</sub>={tu}", size=19)

text(245, 742, "Increased sparseness and size", size=18)
text(609, 742, "Increased weight variability", size=18)

text(15, 342, "goodness of fit (R<sup>2</sup>)", size=20, angle=-90)
text(31, 573, "Lyapunov exponent", size=19, angle=-90)
text(15, 844, "goodness of fit (R<sup>2</sup>)", size=20, angle=-90)

for cx in (187, 427, 667):
    text(cx, 718, "w", size=19)
text(245, 971, "w", size=19)
text(609, 971, "w", size=19)


# ============================ DIAGRAM ============================
def P(x, y):
    return f"{fx(x):.5f},{fy(y):.5f}"


def seg(x0, y0, x1, y1, color="#111", width=2):
    shapes.append(dict(type="line", xref="paper", yref="paper", x0=fx(x0), y0=fy(y0),
                       x1=fx(x1), y1=fy(y1), line=dict(color=color, width=width)))


def tri(tipx, tipy, basex, half, color="#111"):
    shapes.append(dict(type="path", xref="paper", yref="paper",
                       path=f"M {P(tipx, tipy)} L {P(basex, tipy - half)} L {P(basex, tipy + half)} Z",
                       fillcolor=color, line=dict(color=color, width=1)))


def circ(cx, cy, r, fill, stroke, width):
    shapes.append(dict(type="circle", xref="paper", yref="paper", x0=fx(cx - r), x1=fx(cx + r),
                       y0=fy(cy + r), y1=fy(cy - r), fillcolor=fill,
                       line=dict(color=stroke, width=width)))


def bez(p0, c1, c2, p1, color, width):
    shapes.append(dict(type="path", xref="paper", yref="paper",
                       path=f"M {P(*p0)} C {P(*c1)} {P(*c2)} {P(*p1)}",
                       line=dict(color=color, width=width)))


def smooth(pts, color, width):
    s = f"M {P(*pts[0])}"
    n = len(pts)
    for i in range(n - 1):
        p0 = pts[i - 1] if i > 0 else pts[i]
        p1, p2 = pts[i], pts[i + 1]
        p3 = pts[i + 2] if i + 2 < n else pts[i + 1]
        c1 = (p1[0] + (p2[0] - p0[0]) / 6, p1[1] + (p2[1] - p0[1]) / 6)
        c2 = (p2[0] - (p3[0] - p1[0]) / 6, p2[1] - (p3[1] - p1[1]) / 6)
        s += f" C {P(*c1)} {P(*c2)} {P(*p2)}"
    shapes.append(dict(type="path", xref="paper", yref="paper", path=s,
                       line=dict(color=color, width=width)))


WAVE = [(0, 9), (5, -8), (12, 17), (20, -21), (26, 19), (32, -8), (36, 5),
        (42, -6), (46, 4), (51, -8), (55, 4), (59, -8), (61, 2)]


def wave(x0, cy, sx=1.0, sy=1.0):
    smooth([(x0 + dx * sx, cy + dy * sy) for dx, dy in WAVE], "#2a2a2a", 2.5)


wave(13, 58)
wave(127, 84, 1.0, 1.15)
wave(600, 60, 1.03, 0.95)

# splitter lines and arrows
seg(76, 60, 88, 60)
seg(88, 33, 88, 84)
seg(87, 34, 176, 34)
tri(187, 34, 174, 4.5)
seg(87, 83, 108, 83)
tri(119, 83, 106, 4.5)
seg(237, 60, 262, 60, width=4.5)
tri(284, 60, 258, 8)
seg(490, 60, 565, 60, width=4.5)
tri(588, 60, 560, 9)

# feedback arcs
bez((297, 86), (270, 92), (262, 126), (284, 140), C_O, 4)
bez((507, 104), (532, 112), (534, 148), (470, 149), "#111", 4)

# granule-cell chain
for cx in (337, 362, 387, 413, 440, 467):
    circ(cx, 59, 25, "white", "#c6c6c6", 3)
circ(311, 61, 27, "#bdbdbd", "#111", 4)

# Golgi-cell chain
for cx in (336, 363, 390, 417):
    circ(cx, 147, 26, "white", C_LO, 3)
circ(446, 147, 27, C_LO, C_O, 4)

# excitatory (+) and inhibitory (-) synapse symbols
circ(292, 150, 16, C_O, C_O, 1)
seg(284, 150, 300, 150, "white", 4)
seg(292, 142, 292, 158, "white", 4)
circ(496, 92, 15, "white", "#111", 4)
seg(489, 92, 503, 92, "#111", 5)

# filter kernels
bez((700, 31), (700, 70), (703, 71), (766, 71), C_B, 2.5)
bez((700, 31), (704, 62), (718, 70), (766, 70.5), C_G, 2.5)
bez((700, 31), (708, 55), (730, 68), (766, 68), C_R, 2.5)

# diagram texts
text(218, 34, "50%", size=21)
text(218, 83, "50%", size=21)
text(98, 104, "-1", size=20)
text(311, 61, "GC", size=28)
text(397, 60, "1000", size=26)
text(283, 105, "c<sub>u</sub>=100", size=26, xanchor="left")
text(252, 158, "τ<sub>u</sub>", size=26, xanchor="left")
text(305, 178, "u", size=24)
text(372, 147, "100", size=24)
text(446, 148, "GO", size=25)
text(472, 165, "c<sub>w</sub>= 4", size=25, xanchor="left")
text(464, 114, "τ<sub>w</sub>", size=26, xanchor="left")
text(532, 91, "w", size=28)
text(637, 11, "construct filtered responses:", size=22, lineposition="under")
text(679, 56, "*", size=24)
text(623, 98, "τ= 10 ms", size=22, color=C_B, xanchor="left")
text(623, 123, "τ= 100 ms", size=22, color=C_G, xanchor="left")
text(623, 148, "τ= 500 ms", size=22, color=C_R, xanchor="left")

layout["shapes"] = shapes
layout["annotations"] = annots
fig.update_layout(**layout)
fig.write_html("out.html", config={"displayModeBar": False},
               post_script="document.body.style.margin='0';document.body.style.padding='0';"
                           "document.documentElement.style.overflow='hidden';")
